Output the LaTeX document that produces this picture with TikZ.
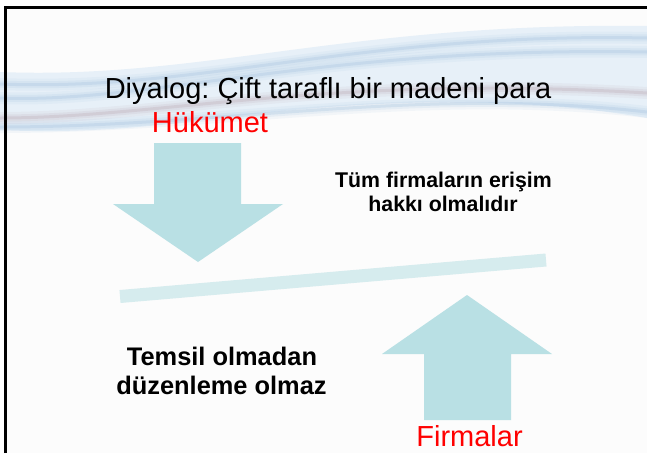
\documentclass[tikz,border=0pt]{standalone}
\usepackage{fontspec}
\setmainfont{Liberation Sans}
\frenchspacing
\definecolor{arrowteal}{RGB}{185,224,228}
\definecolor{barteal}{RGB}{214,236,238}
\definecolor{swlight}{RGB}{214,231,245}
\definecolor{swblue}{RGB}{160,192,222}
\definecolor{swmauve}{RGB}{184,164,176}
\tikzset{
  bigarrow/.style={fill=arrowteal, draw=none},
  titletext/.style={font=\fontsize{29}{34}\selectfont, inner sep=0pt, anchor=base},
  redtext/.style={font=\fontsize{29}{34}\selectfont, text=red, inner sep=0pt, anchor=base},
  boldsmall/.style={font=\bfseries\fontsize{21.3}{24}\selectfont, inner sep=0pt, anchor=base},
  boldbig/.style={font=\bfseries\fontsize{25.4}{29}\selectfont, inner sep=0pt, anchor=base},
  frameline/.style={line width=2.8pt, black},
  streak/.style={line cap=round}
}
\begin{document}
\begin{tikzpicture}[x=1pt,y=-1pt]
\useasboundingbox (0,0) rectangle (647,453);
\fill[white] (0,0) rectangle (647,453);
\fill[black!1] (5,8) rectangle (647,453);
% swoosh background
\fill[swlight, opacity=0.55] (0,72) .. controls (200,80) and (350,22) .. (647,26)
  -- (647,118) .. controls (520,96) and (380,98) .. (220,118)
  .. controls (130,130) and (60,133) .. (0,130) -- cycle;
\foreach \w/\o in {12/0.1,7/0.15,3/0.28}{
  \draw[streak, swblue, line width=\w pt, opacity=\o] (0,98) .. controls (150,104) and (320,46) .. (647,52);
  \draw[streak, swblue, line width=\w pt, opacity=\o] (0,84) .. controls (200,92) and (360,32) .. (647,38);
  \draw[streak, swmauve, line width=\w pt, opacity=\o] (0,118) .. controls (160,118) and (330,74) .. (647,93);
  \draw[streak, swblue, line width=\w pt, opacity=\o] (0,127) .. controls (220,127) and (420,86) .. (647,112);
}
% frame
\draw[frameline] (5.3,453) -- (5.3,7.8) -- (647,7.8);
% title and labels
\node[titletext] (title) at (328,98) {Diyalog: Çift taraflı bir madeni para};
\node[redtext] (gov) at (210,132) {Hükümet};
\node[boldsmall] (access1) at (443.5,187) {Tüm firmaların erişim};
\node[boldsmall] (access2) at (443,211) {hakkı olmalıdır};
\node[boldbig] (repr1) at (222,365) {Temsil olmadan};
\node[boldbig] (repr2) at (221.5,394) {düzenleme olmaz};
\node[redtext] (firms) at (469.5,446) {Firmalar};
% arrows
\fill[bigarrow] (154,143) -- (241,143) -- (241,204) -- (283,204) -- (198,262) -- (113,204) -- (154,204) -- cycle;
\fill[bigarrow] (467,295) -- (552,354) -- (511,354) -- (511,420) -- (424,420) -- (424,354) -- (382,354) -- cycle;
% tilted bar
\draw[barteal, line width=13pt] (120,296.5) -- (546,260);
\end{tikzpicture}
\end{document}
